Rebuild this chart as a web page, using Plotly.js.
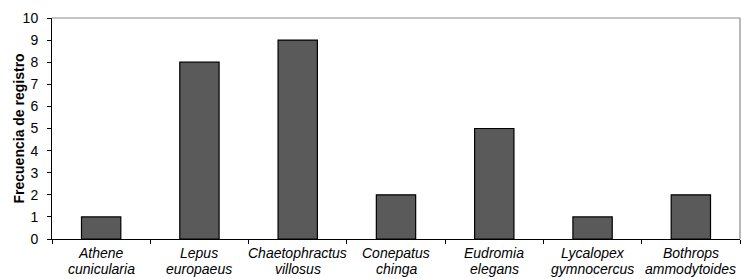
<!DOCTYPE html>
<html><head><meta charset="utf-8">
<script src="https://cdn.plot.ly/plotly-3.0.1.min.js"></script>
<style>body{margin:0;background:#fff}#c{width:741px;height:279px}</style>
</head><body><div id="c"></div>
<script>
const categories = ["Athene cunicularia","Lepus europaeus","Chaetophractus villosus","Conepatus chinga","Eudromia elegans","Lycalopex gymnocercus","Bothrops ammodytoides"];
const labelLine1 = ["Athene","Lepus","Chaetophractus","Conepatus","Eudromia","Lycalopex","Bothrops"];
const labelLine2 = ["cunicularia","europaeus","villosus","chinga","elegans","gymnocercus","ammodytoides"];
const frecuencia = [1, 8, 9, 2, 5, 1, 2];
const yTicks = [0,1,2,3,4,5,6,7,8,9,10];

const FONT = "Liberation Sans, Arial, sans-serif";
const trace = {
  type: "bar", x: categories, y: frecuencia,
  marker: {color: "#5a5a5a", line: {color: "#000", width: 1.2}},
  hoverinfo: "skip"
};
const annotations = [];
categories.forEach((c, i) => {
  [labelLine1[i], labelLine2[i]].forEach((t, k) => {
    annotations.push({
      xref: "x", yref: "paper", x: c, y: 0, yanchor: "middle", xanchor: "center",
      yshift: -(14 + 16 * k), text: t, showarrow: false,
      font: {family: FONT, size: 14, style: "italic", color: "#000"}
    });
  });
});
annotations.push({
  xref: "paper", yref: "paper", x: 0, y: 0.5, xanchor: "center", yanchor: "middle",
  xshift: -34, textangle: -90, text: "Frecuencia de registro", showarrow: false,
  font: {family: FONT, size: 14, weight: "bold", color: "#000"}
});
const layout = {
  width: 741, height: 279,
  margin: {l: 52, r: 1, t: 18, b: 40},
  paper_bgcolor: "#fff", plot_bgcolor: "#fff",
  bargap: 0.6, showlegend: false,
  font: {family: FONT, color: "#000"},
  xaxis: {
    type: "category", showline: true, linecolor: "#000", linewidth: 1,
    ticks: "outside", tickson: "boundaries", ticklen: 4, tickcolor: "#000",
    showticklabels: false,
    showgrid: false, zeroline: false, fixedrange: true
  },
  yaxis: {
    range: [0, 10], tickvals: yTicks, ticktext: yTicks.map(String),
    showline: true, linecolor: "#000", linewidth: 1,
    ticks: "outside", ticklen: 4, tickcolor: "#000", ticklabelstandoff: 6,
    tickfont: {size: 14, color: "#000"}, showgrid: false, zeroline: false,
    fixedrange: true
  },
  annotations: annotations,
  shapes: [
    {type: "line", xref: "paper", yref: "paper", x0: 0, x1: 1, y0: 1, y1: 1, line: {color: "#8a8a8a", width: 1.2}},
    {type: "line", xref: "paper", yref: "paper", x0: 1, x1: 1, y0: 0, y1: 1, line: {color: "#8a8a8a", width: 1.2}}
  ]
};
Plotly.newPlot("c", [trace], layout, {displayModeBar: false, staticPlot: true});
</script></body></html>
